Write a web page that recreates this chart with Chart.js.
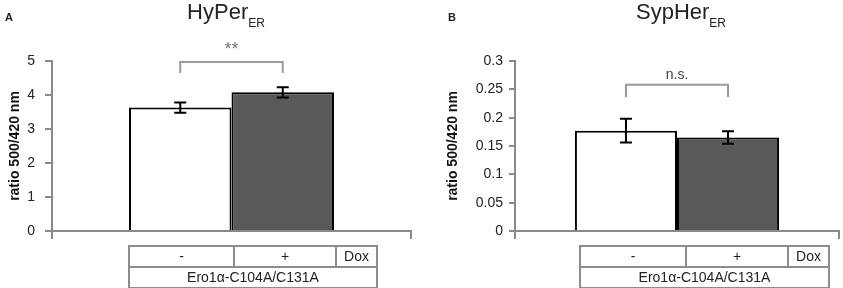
<!DOCTYPE html>
<html>
<head>
<meta charset="utf-8">
<script src="https://cdn.jsdelivr.net/npm/chart.js@4.4.0/dist/chart.umd.min.js"></script>
<style>
  html, body { margin: 0; padding: 0; background: #fff; overflow: hidden; width: 843px; height: 288px; }
  body { position: relative; font-family: 'Liberation Sans', Arial, sans-serif; color: #222; }
  canvas { position: absolute; top: 0; }
  .letter { position: absolute; top: 11px; font-weight: bold; font-size: 11px; line-height: 12px; }
  .title { position: absolute; top: 0; font-size: 22px; line-height: 24px; transform: translateX(-50%); white-space: nowrap; }
  .title sub { font-size: 12px; vertical-align: -8px; line-height: 0; }
  table { position: absolute; top: 245px; border-collapse: collapse; table-layout: fixed; font-size: 14px; }
  td { border: 2px solid #8c8c8c; height: 19px; line-height: 19px; padding: 0; text-align: center; color: #222; }
</style>
</head>
<body>
<canvas id="chartA" width="421" height="288" style="left:0"></canvas>
<canvas id="chartB" width="422" height="288" style="left:421px"></canvas>

<div class="letter" style="left:5px">A</div>
<div class="letter" style="left:448px">B</div>
<div class="title" style="left:226px">HyPer<sub>ER</sub></div>
<div class="title" style="left:681px">SypHer<sub>ER</sub></div>

<table id="tableA" style="left:128px;width:248px"></table>
<table id="tableB" style="left:579px;width:249px"></table>

<script>
// ---- data ----
const categories = ['Ero1α-C104A/C131A'];
const doxLabels = ['-', '+'];
const doxHeader = 'Dox';

const hyperMeans = [3.63, 4.08];
const hyperErrors = [0.15, 0.15];
const hyperTicks = ['0', '1', '2', '3', '4', '5'];

const sypherMeans = [0.177, 0.165];
const sypherErrors = [0.021, 0.011];
const sypherTicks = ['0', '0.05', '0.1', '0.15', '0.2', '0.25', '0.3'];

const barColors = ['#ffffff', '#595959'];
const AXIS = '#898989';

// error bars + significance bracket
const extras = {
  id: 'extras',
  afterDatasetsDraw(chart, args, opts) {
    const {ctx, scales: {y}} = chart;
    ctx.save();
    ctx.strokeStyle = '#000';
    ctx.lineWidth = 2;
    chart.data.datasets.forEach((ds, i) => {
      const bar = chart.getDatasetMeta(i).data[0];
      const m = ds.data[0], e = opts.errors[i];
      const top = y.getPixelForValue(m + e), bot = y.getPixelForValue(m - e);
      ctx.beginPath();
      ctx.moveTo(bar.x, top); ctx.lineTo(bar.x, bot);
      ctx.moveTo(bar.x - 6, top); ctx.lineTo(bar.x + 6, top);
      ctx.moveTo(bar.x - 6, bot); ctx.lineTo(bar.x + 6, bot);
      ctx.stroke();
    });
    const x0 = chart.getDatasetMeta(0).data[0].x;
    const x1 = chart.getDatasetMeta(1).data[0].x;
    const yt = y.getPixelForValue(opts.bracketTop);
    const ya = y.getPixelForValue(opts.bracketArm);
    ctx.strokeStyle = '#9a9a9a';
    ctx.beginPath();
    ctx.moveTo(x0, ya); ctx.lineTo(x0, yt); ctx.lineTo(x1, yt); ctx.lineTo(x1, ya);
    ctx.stroke();
    ctx.fillStyle = opts.labelColor;
    ctx.font = opts.labelSize + 'px "Liberation Sans", Arial, sans-serif';
    ctx.textAlign = 'center';
    ctx.textBaseline = 'alphabetic';
    ctx.fillText(opts.label, (x0 + x1) / 2, yt - opts.labelGap);
    ctx.restore();
  }
};

function makeChart(id, means, errors, tickLabels, yMax, step, cfg) {
  return new Chart(document.getElementById(id), {
    type: 'bar',
    data: {
      labels: categories,
      datasets: doxLabels.map((lab, i) => ({
        label: lab,
        data: [means[i]],
        backgroundColor: barColors[i],
        borderColor: '#000',
        borderWidth: 2,
        barPercentage: 1,
        categoryPercentage: cfg.catPct
      }))
    },
    options: {
      responsive: false,
      animation: false,
      layout: {padding: {top: 61, left: 0, right: cfg.right, bottom: 49}},
      plugins: {
        legend: {display: false},
        tooltip: {enabled: false},
        extras: cfg.extras
      },
      scales: {
        x: {
          ticks: {display: false},
          grid: {display: true, drawOnChartArea: false, tickLength: 8, color: AXIS, lineWidth: 2},
          border: {color: AXIS, width: 2},
          afterFit: s => { s.height = 8; }
        },
        y: {
          min: 0, max: yMax,
          ticks: {
            stepSize: step,
            padding: cfg.tickPad,
            color: '#222',
            font: {family: "'Liberation Sans', Arial, sans-serif", size: 14},
            callback: (v, i) => tickLabels[i]
          },
          grid: {drawOnChartArea: false, tickLength: cfg.tickLen, color: AXIS, lineWidth: 2},
          border: {color: AXIS, width: 2},
          title: {
            display: true,
            text: 'ratio 500/420 nm',
            color: '#111',
            font: {family: "'Liberation Sans', Arial, sans-serif", size: 14, weight: 'bold'},
            padding: {top: cfg.titlePad, bottom: 0}
          },
          afterFit: s => { s.width = cfg.yWidth; }
        }
      }
    },
    plugins: [extras]
  });
}

makeChart('chartA', hyperMeans, hyperErrors, hyperTicks, 5, 1, {
  catPct: 0.571, right: 10, yWidth: 52, tickLen: 7, tickPad: 10, titlePad: 7,
  extras: {errors: hyperErrors, bracketTop: 4.97, bracketArm: 4.65, label: '**', labelColor: '#777', labelSize: 18, labelGap: 7}
});

makeChart('chartB', sypherMeans, sypherErrors, sypherTicks, 0.3, 0.05, {
  catPct: 0.63, right: 4, yWidth: 94, tickLen: 6, tickPad: 6, titlePad: 24,
  extras: {errors: sypherErrors, bracketTop: 0.258, bracketArm: 0.236, label: 'n.s.', labelColor: '#444', labelSize: 14, labelGap: 6}
});

// condition tables under the bars
function fillTable(id, widths) {
  const t = document.getElementById(id);
  t.innerHTML =
    '<colgroup>' + widths.map(w => `<col style="width:${w}px">`).join('') + '</colgroup>' +
    '<tr>' + doxLabels.map(l => `<td>${l}</td>`).join('') + `<td>${doxHeader}</td></tr>` +
    `<tr><td colspan="3">${categories[0]}</td></tr>`;
}
fillTable('tableA', [105, 102, 41]);
fillTable('tableB', [106, 102, 41]);
</script>
</body>
</html>
